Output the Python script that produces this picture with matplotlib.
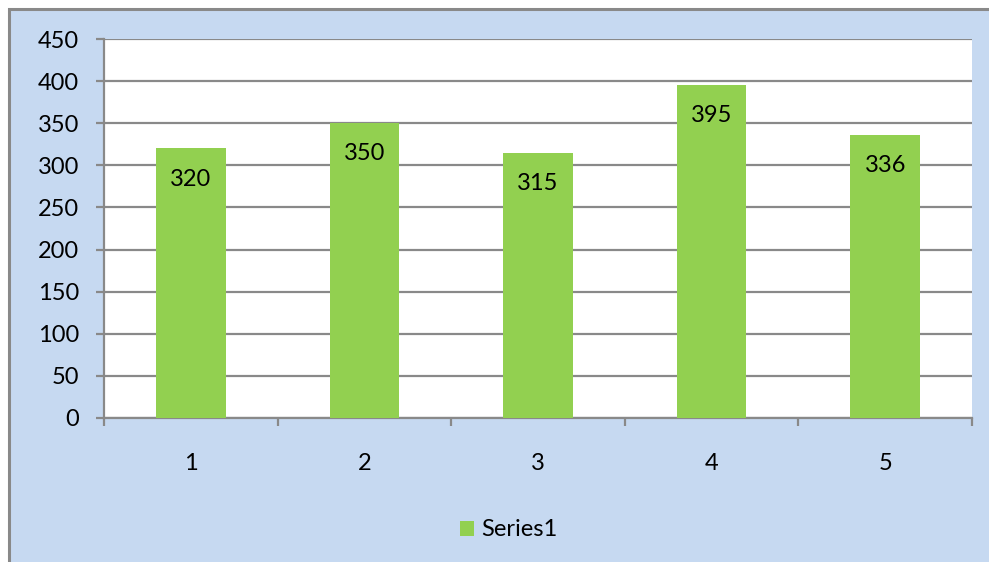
import matplotlib
matplotlib.use("Agg")
import matplotlib.pyplot as plt
from matplotlib.patches import Rectangle
from matplotlib.ticker import FixedLocator

categories = ["1", "2", "3", "4", "5"]
values = [320, 350, 315, 395, 336]
series_name = "Series1"
yticks = [0, 50, 100, 150, 200, 250, 300, 350, 400, 450]

plt.rcParams['font.family'] = ['Lato', 'DejaVu Sans']
FS = 17
BG = "#C6D9F1"
GREEN = "#92D050"
GRAY = "#898989"

W, H = 989, 562
fig = plt.figure(figsize=(W / 100, H / 100), dpi=100)
fig.patch.set_facecolor("white")

# blue chart area with gray border (cropped on right/bottom)
fig.patches.append(Rectangle((9 / W, -0.05), 1.1, (H - 9) / H + 0.05,
                             transform=fig.transFigure, facecolor=BG,
                             edgecolor=GRAY, linewidth=2.2, zorder=-5))

ax = fig.add_axes([104 / W, 144 / H, 868 / W, 379 / H])
ax.set_zorder(1)
ax.set_facecolor("white")

x = list(range(1, len(categories) + 1))
bars = ax.bar(x, values, width=0.4, color=GREEN, zorder=3, label=series_name)

ax.set_xlim(0.5, len(categories) + 0.5)
ax.set_ylim(0, 450)
ax.set_yticks(yticks)
ax.set_yticklabels([str(t) for t in yticks], fontsize=FS)
ax.yaxis.grid(True, color=GRAY, linewidth=1.6, zorder=1)
ax.set_axisbelow(True)

# category boundaries as major ticks, labels at centers via minor ticks
ax.xaxis.set_major_locator(FixedLocator([i + 0.5 for i in range(0, len(categories) + 1)]))
ax.set_xticklabels([""] * (len(categories) + 1))
ax.xaxis.set_minor_locator(FixedLocator(x))
ax.set_xticklabels(categories, minor=True, fontsize=FS)
ax.tick_params(axis="x", which="major", length=6, width=1.6, color=GRAY, direction="out")
ax.tick_params(axis="x", which="minor", length=0, pad=25)
ax.tick_params(axis="y", length=6, width=1.6, color=GRAY, pad=12)

for s in ["top", "right"]:
    ax.spines[s].set_visible(False)
for s in ["left", "bottom"]:
    ax.spines[s].set_color(GRAY)
    ax.spines[s].set_linewidth(1.6)

for xi, v in zip(x, values):
    ax.annotate(str(v), (xi, v), xytext=(0, -22), textcoords="offset points",
                ha="center", va="center", fontsize=FS, zorder=4)

leg = fig.legend(handles=[bars], labels=[series_name], loc="center",
                 bbox_to_anchor=(509 / W, 1 - 530 / H), frameon=False,
                 fontsize=FS, handlelength=0.6, handleheight=0.6, handletextpad=0.3)

fig.savefig("out.png", dpi=100, facecolor=fig.get_facecolor())
